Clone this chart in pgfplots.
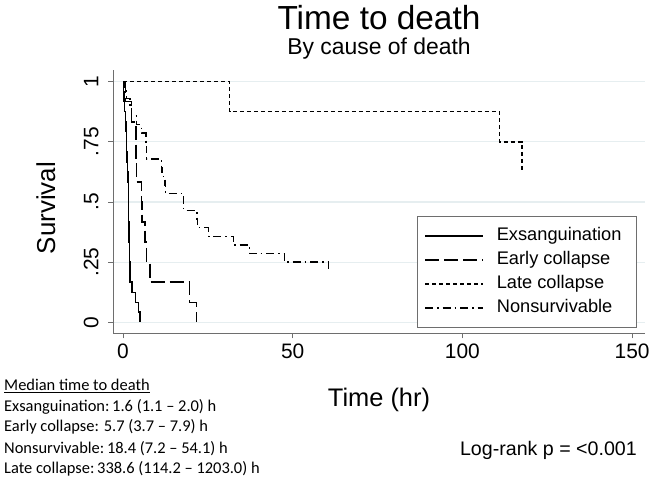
\documentclass[border=0pt]{standalone}
\usepackage{pgfplots}
\pgfplotsset{compat=1.18}
\usepackage{fontspec}
\setmainfont{Liberation Sans}
\newfontfamily\carlito{Carlito}
\definecolor{gridc}{RGB}{230,238,240}
\definecolor{axc}{RGB}{110,110,110}
\begin{document}
\begin{tikzpicture}
\path[use as bounding box] (0,0) rectangle (654bp,480bp);
\begin{axis}[
 at={(113bp,146.7bp)}, anchor=south west,
 scale only axis, width=532bp, height=263.3bp,
 xmin=-2.95, xmax=153.8, ymin=-0.0457, ymax=1.0486,
 axis x line*=bottom, axis y line*=left,
 axis line style={axc, line width=0.9bp},
 xtick={0,50,100,150}, ytick={0,0.25,0.5,0.75,1},
 yticklabels={0,.25,.5,.75,1},
 tick align=outside, major tick length=5bp,
 tick style={axc, line width=0.9bp},
 ymajorgrids, grid style={gridc, line width=1.1bp},
 ticklabel style={font=\fontsize{21}{25}\selectfont},
 /pgf/number format/assume math mode=true,
 yticklabel style={rotate=90, anchor=south},
 yticklabel shift=6bp,
 xticklabel shift=2bp,
 legend image code/.code={\draw[#1] (0bp,0bp) -- (58bp,0bp);},
 legend style={at={(0.5714,0.4455)}, anchor=north west, draw=axc, line width=0.9bp,
   fill=white, font=\fontsize{18.3}{22}\selectfont,
   inner xsep=7bp, inner ysep=11bp, row sep=7bp,
   nodes={inner sep=0pt, text height=13bp, text depth=4bp}},
 legend cell align=left,
]
\addplot[const plot, black, line width=1.4bp] coordinates {
 (0,1) (0.1,0.958) (0.3,0.917) (0.5,0.875) (0.7,0.833) (0.85,0.792) (1.0,0.75)
 (1.1,0.708) (1.2,0.667) (1.35,0.625) (1.5,0.583) (1.55,0.542) (1.6,0.5)
 (1.65,0.458) (1.7,0.417) (1.75,0.375) (1.8,0.333) (1.85,0.292) (1.95,0.25)
 (2.0,0.208) (2.1,0.167) (2.6,0.125) (3.6,0.083) (4.5,0.042) (5.0,0)};
\addlegendentry{\hspace*{13bp}Exsanguination\hspace*{8bp}}
\addplot[const plot, black, line width=1.4bp, dash pattern=on 14bp off 5bp] coordinates {
 (0,1) (0.8,0.917) (2.5,0.833) (3.8,0.75) (3.85,0.667) (3.9,0.583) (5.5,0.5)
 (5.6,0.417) (6.5,0.333) (7.0,0.25) (8.0,0.167) (19.6,0.083) (21.6,0)};
\addlegendentry{\hspace*{13bp}Early collapse}
\addplot[const plot, black, line width=1.4bp, dash pattern=on 4.3bp off 2.7bp] coordinates {
 (0,1) (31.4,0.875) (111,0.75) (117.5,0.625)};
\addlegendentry{\hspace*{13bp}Late collapse}
\addplot[const plot, black, line width=1.4bp, dash pattern=on 8bp off 4bp on 1.5bp off 4bp] coordinates {
 (0,1) (0.5,0.964) (1.0,0.929) (2.0,0.893) (2.5,0.857) (4.0,0.821) (5.5,0.786)
 (6.8,0.75) (6.9,0.714) (7.0,0.679) (11.4,0.643) (11.5,0.607) (12.4,0.571)
 (12.5,0.536) (17.8,0.5) (17.9,0.464) (21.8,0.429) (21.9,0.393) (25.2,0.357)
 (32.6,0.321) (37.3,0.286) (47.6,0.25) (60.5,0.214) (61,0.214)};
\addlegendentry{\hspace*{13bp}Nonsurvivable}
\end{axis}
\node[anchor=base, inner sep=0pt, font=\fontsize{33.5}{40}\selectfont] at (379bp,450bp) {Time to death};
\node[anchor=base, inner sep=0pt, font=\fontsize{23}{28}\selectfont] at (379bp,425bp) {By cause of death};
\node[anchor=base, inner sep=0pt, font=\fontsize{25.5}{30}\selectfont] at (379bp,73bp) {Time (hr)};
\node[anchor=base, inner sep=0pt, rotate=90, font=\fontsize{26}{30}\selectfont] at (55bp,272bp) {Survival};
\begin{scope}[every node/.style={anchor=base west, inner sep=0pt, font=\carlito\fontsize{16.5}{20}\selectfont}]
\node at (4bp,89.3bp) {\underline{Median time to death}};
\node at (4bp,68.3bp) {Exsanguination:\,1.6 (1.1 – 2.0) h};
\node at (4bp,48bp) {Early collapse: 5.7 (3.7 – 7.9) h};
\node at (4bp,27bp) {Nonsurvivable:\,18.4 (7.2 – 54.1) h};
\node at (4bp,7bp) {Late collapse:\,338.6 (114.2 – 1203.0) h};
\end{scope}
\node[anchor=base east, inner sep=0pt, font=\fontsize{19.7}{24}\selectfont] at (637bp,25bp) {Log-rank p = <0.001};
\end{tikzpicture}
\end{document}
